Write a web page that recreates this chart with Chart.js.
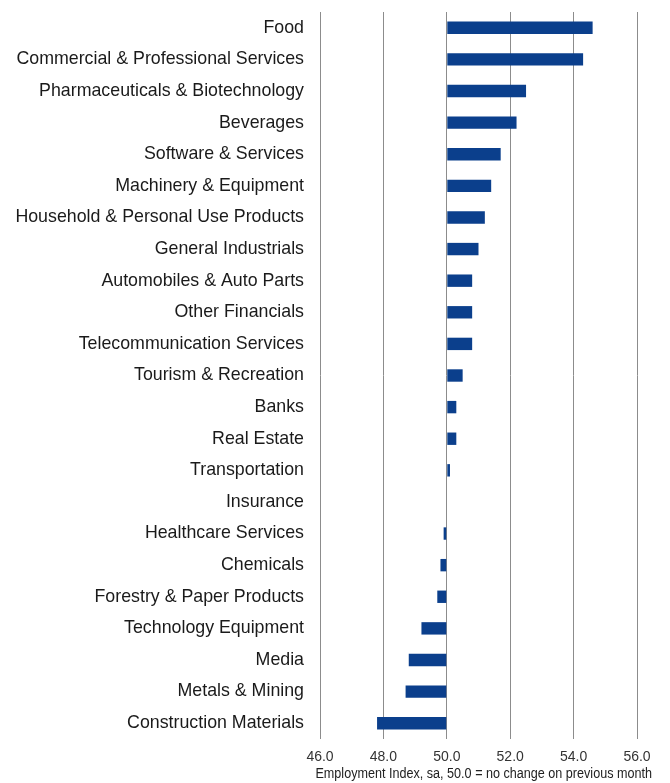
<!DOCTYPE html>
<html>
<head>
<meta charset="utf-8">
<script src="https://cdn.jsdelivr.net/npm/chart.js@4"></script>
<style>
  html, body { margin: 0; padding: 0; background: #fff; }
  #wrap { width: 670px; height: 783px; position: relative; }
</style>
</head>
<body>
<div id="wrap"><canvas id="sectorChart" width="670" height="783"></canvas></div>
<script>
// Sector employment index, sorted high to low
const sectors = [
  'Food', 'Commercial & Professional Services', 'Pharmaceuticals & Biotechnology',
  'Beverages', 'Software & Services', 'Machinery & Equipment',
  'Household & Personal Use Products', 'General Industrials', 'Automobiles & Auto Parts',
  'Other Financials', 'Telecommunication Services', 'Tourism & Recreation',
  'Banks', 'Real Estate', 'Transportation', 'Insurance', 'Healthcare Services',
  'Chemicals', 'Forestry & Paper Products', 'Technology Equipment', 'Media',
  'Metals & Mining', 'Construction Materials'
];
const indexValues = [
  54.6, 54.3, 52.5, 52.2, 51.7, 51.4, 51.2, 51.0, 50.8, 50.8, 50.8, 50.5,
  50.3, 50.3, 50.1, 50.0, 49.9, 49.8, 49.7, 49.2, 48.8, 48.7, 47.8
];
const xTicks = [46, 48, 50, 52, 54, 56];
const NO_CHANGE = 50;

const FONT = "'Liberation Sans', Arial, sans-serif";
const AXIS_TITLE = 'Employment Index, sa, 50.0 = no change on previous month';

// Axis caption (narrow) and source note under the plot
const footnotes = {
  id: 'footnotes',
  afterDraw(chart) {
    const ctx = chart.ctx;
    ctx.save();
    ctx.fillStyle = '#222';
    ctx.font = '14px ' + FONT;
    ctx.textBaseline = 'middle';
    ctx.textAlign = 'right';
    ctx.translate(652, 774);
    ctx.scale(0.9, 1);
    ctx.fillText(AXIS_TITLE, 0, 0);
    ctx.restore();

    ctx.save();
    ctx.font = '11px ' + FONT;
    ctx.fillStyle = '#333';
    ctx.textBaseline = 'top';
    ctx.textAlign = 'left';
    ctx.fillText('Source: Markit', 28, 782);
    ctx.restore();
  }
};

new Chart(document.getElementById('sectorChart'), {
  type: 'bar',
  data: {
    labels: sectors,
    datasets: [{
      data: indexValues,
      base: NO_CHANGE,
      backgroundColor: '#0b3f8c',
      borderWidth: 0,
      barPercentage: 0.8,
      categoryPercentage: 0.49
    }]
  },
  options: {
    indexAxis: 'y',
    responsive: false,
    animation: false,
    layout: { padding: { top: 12, right: 33, bottom: 0, left: 0 } },
    plugins: { legend: { display: false }, tooltip: { enabled: false } },
    scales: {
      x: {
        min: 46, max: 56,
        afterBuildTicks: s => { s.ticks = xTicks.map(v => ({ value: v })); },
        afterFit: s => { s.height = 44; },
        grid: { color: '#8c8c8c', lineWidth: 1, drawTicks: false },
        border: { display: false },
        ticks: {
          color: '#333',
          padding: 10,
          font: { family: FONT, size: 14 },
          callback: v => Number(v).toFixed(1)
        }
      },
      y: {
        afterFit: s => { s.width = 320; s.paddingTop = 0; s.paddingBottom = 0; },
        grid: { display: false, drawTicks: false },
        border: { display: false },
        ticks: {
          color: '#1a1a1a',
          padding: 16,
          autoSkip: false,
          font: { family: FONT, size: 17.8 }
        }
      }
    }
  },
  plugins: [footnotes]
});
</script>
</body>
</html>
